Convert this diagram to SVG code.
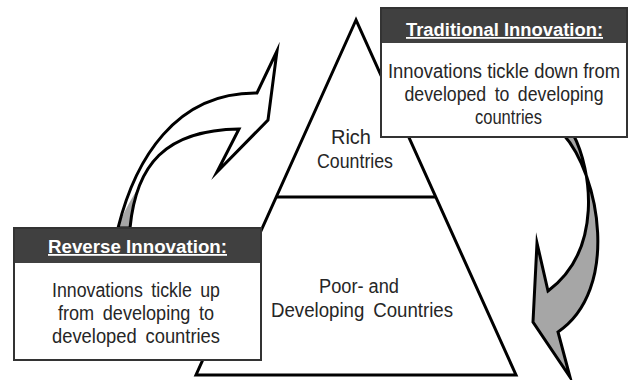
<svg xmlns="http://www.w3.org/2000/svg" width="630" height="380" viewBox="0 0 630 380">
  <style>
    .edge { fill: none; stroke: #000; stroke-width: 3; stroke-linejoin: miter; stroke-miterlimit: 10; }
    .label { font-family: "Liberation Sans", Arial, sans-serif; font-size: 20px; fill: #262626; text-anchor: middle; }
    .head { font-family: "Liberation Sans", Arial, sans-serif; font-size: 18px; font-weight: bold; fill: #fff; text-anchor: middle; text-decoration: underline; }
    .box { fill: #fff; stroke: #333; stroke-width: 2; }
    .band { fill: #404040; }
  </style>
  <defs>
    <path id="upArrow" d="M118,228 C135,160 175,92 257,93 L277,51 L268,120 L217,172 L239,129 C165,130 136,165 130,228 Z"/>
    <path id="downArrow" d="M563,134 C600,175 620,290 558,332 L570,377 L533,322 L537,243 L548,291 C603,250 592,170 573,134 Z"/>
  </defs>
  <rect width="630" height="380" fill="#fff"/>

  <!-- pyramid of country groups -->
  <g id="pyramid">
    <path d="M356,20 L196,375 L516,375 Z" fill="#fff" stroke="#000" stroke-width="3" stroke-linejoin="miter"/>
    <line x1="276" y1="197" x2="436" y2="197" stroke="#000" stroke-width="3"/>
    <g id="rich">
      <text class="label" x="351" y="144">Rich</text>
      <text class="label" x="355" y="168" textLength="76" lengthAdjust="spacingAndGlyphs">Countries</text>
    </g>
    <g id="poor">
      <text class="label" x="359" y="293" textLength="80" lengthAdjust="spacingAndGlyphs">Poor- and</text>
      <text class="label" x="362" y="317" textLength="182" lengthAdjust="spacingAndGlyphs" word-spacing="4">Developing Countries</text>
    </g>
  </g>

  <!-- curved flow arrows -->
  <g id="connectors">
    <g id="reverse-flow">
      <use href="#upArrow" fill="#fff"/>
      <path d="M118,228 L130,228 C130,215 133,201 137,190 C129,203 122,215 118,228 Z" fill="#a6a6a6"/>
      <use href="#upArrow" class="edge"/>
    </g>
    <g id="traditional-flow">
      <use href="#downArrow" fill="#a6a6a6"/>
      <use href="#downArrow" class="edge"/>
    </g>
  </g>

  <!-- callout: traditional innovation -->
  <g id="traditional">
    <rect class="box" x="381" y="8" width="246" height="129"/>
    <rect class="band" x="381" y="8" width="246" height="35"/>
    <rect x="381" y="8" width="246" height="129" fill="none" stroke="#333" stroke-width="2"/>
    <text class="head" x="504.5" y="36" textLength="197" lengthAdjust="spacingAndGlyphs">Traditional Innovation:</text>
    <text class="label" x="504" y="78" font-size="18.5" textLength="232" lengthAdjust="spacingAndGlyphs">Innovations tickle down from</text>
    <text class="label" x="504" y="101" textLength="199" lengthAdjust="spacingAndGlyphs" word-spacing="4">developed to developing</text>
    <text class="label" x="508.5" y="124" textLength="67" lengthAdjust="spacingAndGlyphs">countries</text>
  </g>

  <!-- callout: reverse innovation -->
  <g id="reverse">
    <rect class="box" x="14" y="228" width="247" height="132"/>
    <rect class="band" x="14" y="228" width="247" height="35"/>
    <rect x="14" y="228" width="247" height="132" fill="none" stroke="#333" stroke-width="2"/>
    <text class="head" x="137.5" y="253" textLength="179" lengthAdjust="spacingAndGlyphs">Reverse Innovation:</text>
    <text class="label" x="136" y="297" textLength="168" lengthAdjust="spacingAndGlyphs" word-spacing="4">Innovations tickle up</text>
    <text class="label" x="136" y="320" textLength="156" lengthAdjust="spacingAndGlyphs" word-spacing="4">from developing to</text>
    <text class="label" x="136" y="343" textLength="168" lengthAdjust="spacingAndGlyphs" word-spacing="4">developed countries</text>
  </g>
</svg>
